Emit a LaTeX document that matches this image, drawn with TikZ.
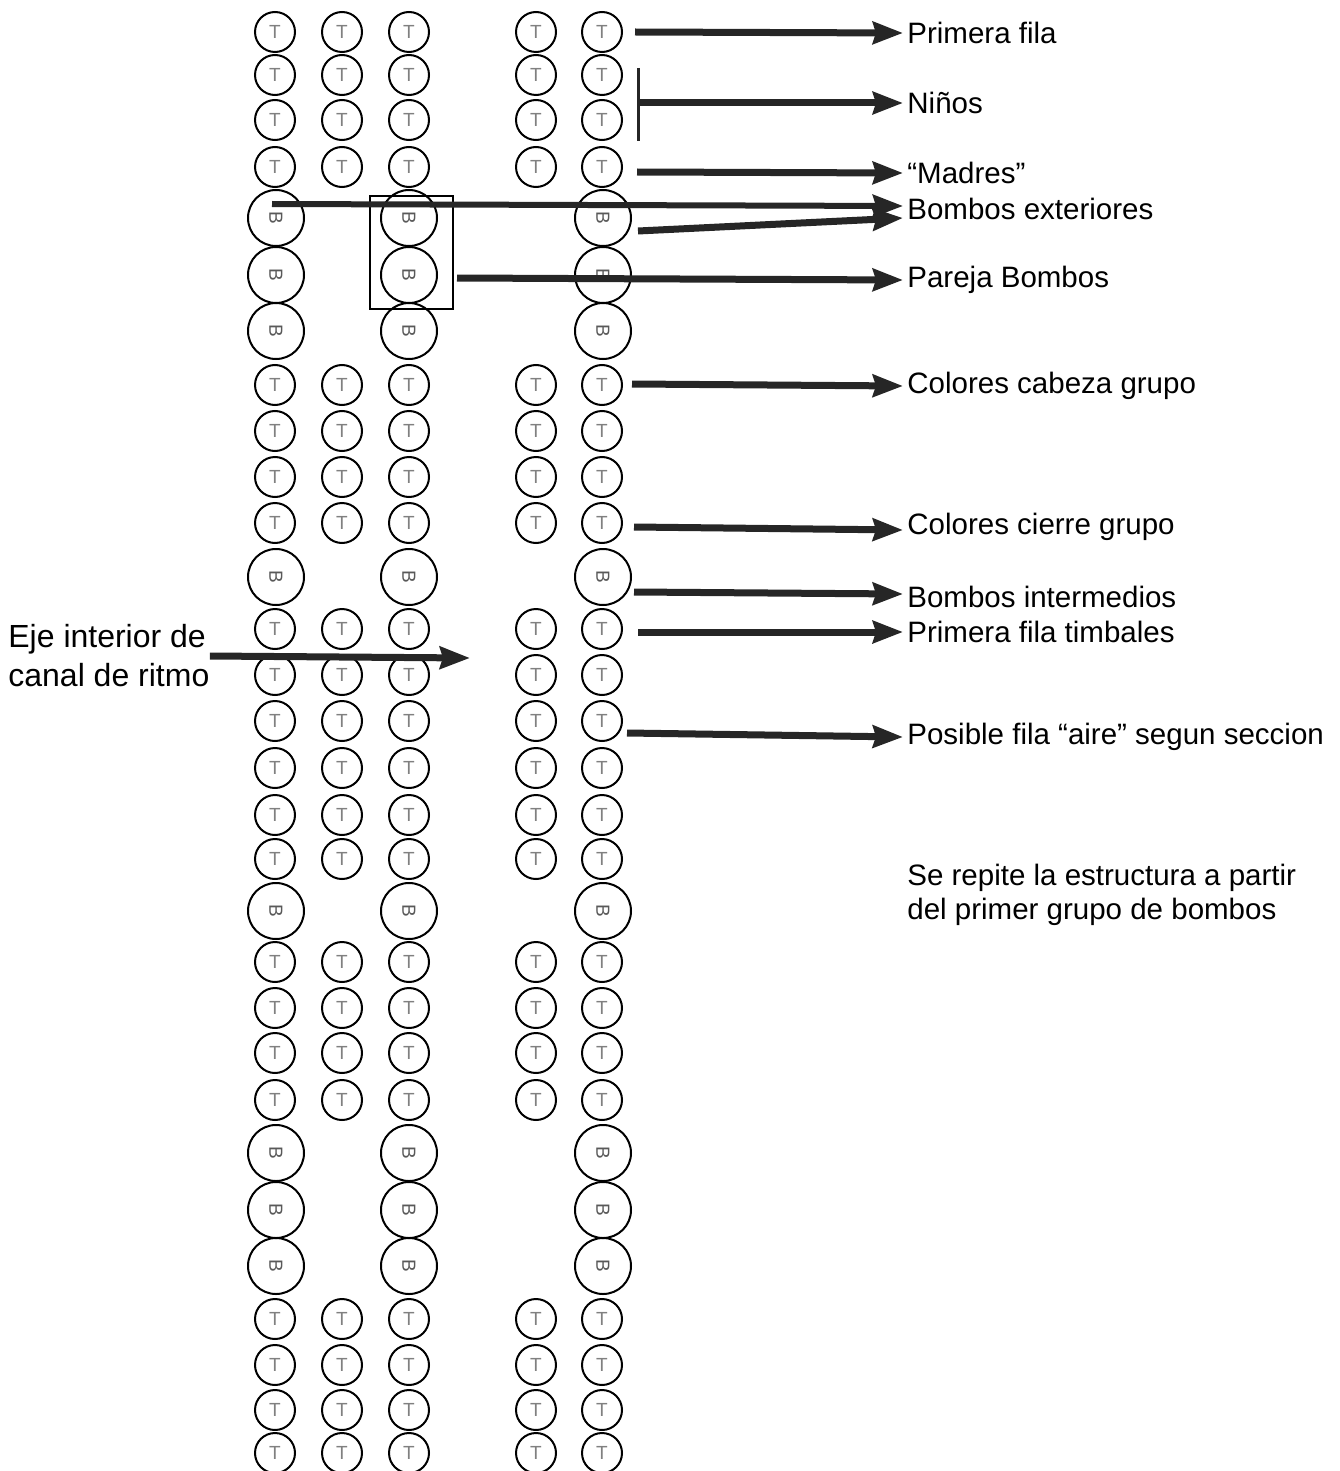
\documentclass[tikz,border=0pt]{standalone}
\usepackage{fontspec}
\setmainfont{Liberation Sans}
\usetikzlibrary{arrows.meta}
\tikzset{
  tim/.style={circle, draw, line width=1pt, minimum size=20pt, inner sep=0pt,
    text=gray, font=\fontsize{9.5}{9.5}\selectfont},
  bom/.style={circle, draw, line width=1pt, minimum size=28pt, inner sep=0pt,
    text=gray!70!black, font=\fontsize{9.5}{9.5}\selectfont},
  lbl/.style={anchor=west, inner sep=2pt, font=\fontsize{14.75}{17}\selectfont},
  arr/.style={draw=black!85, line width=3.5pt,
    -{Stealth[length=15pt,width=11pt,inset=1.5pt,fill=black!85]}}
}

\begin{document}
\begin{tikzpicture}[x=0.5pt, y=-0.5pt]
  \useasboundingbox (0,0) rectangle (1339,1471);

  % timbales
  \foreach \y [count=\r] in {32,75,120,167,385,431,477,523,629,675,721,768,815,859,962,1008,1053,1100,1319,1365,1410,1453}
    \foreach \x [count=\c] in {275,342,409,536,602}
      \node[tim] (t-\r-\c) at (\x,\y) {T};
  % bombos
  \foreach \y [count=\r] in {218,275,331,577,911,1153,1210,1266}
    \foreach \x [count=\c] in {276,409,603}
      \node[bom] (b-\r-\c) at (\x,\y) {\rotatebox{-90}{B}};

  \node[draw, line width=1pt, inner sep=0pt, minimum width=41.5pt, minimum height=56.5pt] (caja) at (411.5,252.5) {};

  % labels
  \node[lbl] (primera) at (903,33) {Primera fila};
  \node[lbl] (ninos) at (903,103) {Niños};
  \node[lbl] (madres) at (903,173) {“Madres”};
  \node[lbl] (exter) at (903,209) {Bombos exteriores};
  \node[lbl] (pareja) at (903,280) {Pareja Bombos};
  \node[lbl] (cabeza) at (903,386) {Colores cabeza grupo};
  \node[lbl] (cierre) at (903,527) {Colores cierre grupo};
  \node[lbl] (interm) at (903,597) {Bombos intermedios};
  \node[lbl] (timbales) at (903,632) {Primera fila timbales};
  \node[lbl] (aire) at (903,737) {Posible fila “aire” segun seccion};
  \node[lbl, align=left] (repite) at (903,895) {Se repite la estructura a partir\\del primer grupo de bombos};
  \node[anchor=west, inner sep=0pt, align=left, font=\fontsize{16}{19.5}\selectfont] (eje) at (8,656) {Eje interior de\\canal de ritmo};

  % arrow starts
  \coordinate (s-primera) at (635,32);
  \coordinate (s-ninos) at (640,103);
  \coordinate (bar-top) at (638,68);
  \coordinate (bar-bot) at (638,141);
  \coordinate (s-madres) at (637,172);
  \coordinate (s-exter1) at (272,204);
  \coordinate (s-exter2) at (638,231);
  \coordinate (s-pareja) at (457,278);
  \coordinate (s-cabeza) at (632,384);
  \coordinate (s-cierre) at (634,527);
  \coordinate (s-interm) at (634,592);
  \coordinate (s-timb) at (638,632);
  \coordinate (s-aire) at (627,733);
  \coordinate (e-eje) at (470,658);

  \draw[arr] (s-primera) -- (primera.west);
  \draw[black!85, line width=1.5pt] (bar-top) -- (bar-bot);
  \draw[arr] (s-ninos) -- (ninos.west);
  \draw[arr] (s-madres) -- (madres.west);
  \draw[arr, line width=3pt] (s-exter1) -- ([yshift=1.5pt]exter.west);
  \draw[arr] (s-exter2) -- ([yshift=-4.5pt]exter.west);
  \draw[arr] (s-pareja) -- (pareja.west);
  \draw[arr] (s-cabeza) -- (cabeza.west);
  \draw[arr] (s-cierre) -- ([yshift=-1.5pt]cierre.west);
  \draw[arr] (s-interm) -- ([yshift=1.5pt]interm.west);
  \draw[arr] (s-timb) -- (timbales.west);
  \draw[arr] (s-aire) -- (aire.west);
  \draw[arr] (eje.east) -- (e-eje);
\end{tikzpicture}
\end{document}
